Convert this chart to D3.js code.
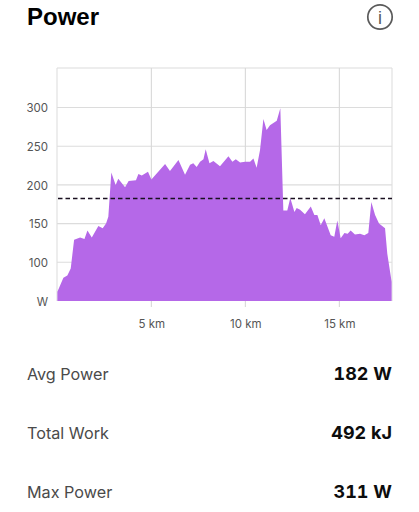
<!DOCTYPE html>
<html>
<head>
<meta charset="utf-8">
<script src="https://cdn.jsdelivr.net/npm/d3@7/dist/d3.min.js"></script>
<style>html,body{margin:0;padding:0;background:#fff;overflow:hidden}svg{display:block}</style>
</head>
<body>
<svg id="c" width="419" height="512"></svg>
<script>
const distanceKm = [0,0.11,0.32,0.53,0.71,0.89,1.21,1.44,1.60,1.83,2.18,2.41,2.59,2.71,2.77,2.87,3.10,3.24,3.60,3.79,4.18,4.31,4.49,4.82,5.00,5.73,5.99,6.44,6.79,7.06,7.23,7.41,7.59,7.77,7.89,8.09,8.30,8.65,9.10,9.31,9.49,9.72,9.98,10.25,10.43,10.60,10.78,10.96,11.13,11.31,11.67,11.86,12.02,12.23,12.39,12.61,12.73,12.91,13.17,13.48,13.67,13.83,14.01,14.20,14.54,14.73,14.89,15.07,15.27,15.44,15.60,15.83,16.10,16.33,16.54,16.70,16.90,17.11,17.43,17.55,17.78];
const powerW = [62,68,80,83,92,129,132,130,141,132,147,144,150,159,180,216,200,208,197,205,206,214,212,217,207,227,218,232,213,226,228,223,230,233,246,228,231,224,237,230,233,229,230,230,234,222,245,285,271,277,283,299,167,167,183,165,170,168,162,172,161,161,148,157,135,133,154,131,138,137,141,136,137,135,138,178,161,150,144,111,75];
const avgPower = 182;
const yTicks = [50,100,150,200,250,300];
const xTicks = [5,10,15];
const statLabels = ["Avg Power","Total Work","Max Power"];
const statValues = ["182 W","492 kJ","311 W"];

const svg = d3.select("#c");
const uiFont = "Inter, 'Noto Sans', sans-serif";
const x = d3.scaleLinear().domain([-0.02,17.8]).range([57,392]);
const y = d3.scaleLinear().domain([50,351]).range([301,68]);

svg.append("text").attr("x",27).attr("y",25).attr("font-family","'Liberation Sans',Arial,sans-serif")
  .attr("font-weight",700).attr("font-size",24).attr("fill","#000").text("Power");
const info = svg.append("g").attr("transform","translate(380,17)");
info.append("circle").attr("r",12.2).attr("fill","none").attr("stroke","#5a5a5a").attr("stroke-width",1.7);
info.append("text").attr("text-anchor","middle").attr("y",6.5).attr("font-family","'Liberation Sans',sans-serif")
  .attr("font-size",18).attr("fill","#5a5a5a").text("i");

// grid
const grid = svg.append("g");
grid.selectAll("line.h").data(yTicks.slice(1).concat([351])).join("line")
  .attr("x1",57).attr("x2",392).attr("y1",d=>y(d)).attr("y2",d=>y(d)).attr("stroke","#dcdcdc").attr("stroke-width",1.1);
grid.selectAll("line.v").data(xTicks.concat([])).join("line")
  .attr("class","v").attr("x1",d=>x(d)).attr("x2",d=>x(d)).attr("y1",68).attr("y2",307).attr("stroke","#d8d8d8").attr("stroke-width",1.1);
grid.selectAll("line.e").data([57,392]).join("line").attr("class","e")
  .attr("x1",d=>d).attr("x2",d=>d).attr("y1",68).attr("y2",301).attr("stroke","#dfdfdf").attr("stroke-width",1.1);

// area
const pts = distanceKm.map((d,i)=>[d,powerW[i]]);
svg.append("path").datum(pts)
  .attr("d",d3.area().x(d=>x(d[0])).y0(y(50)).y1(d=>y(d[1])))
  .attr("fill","#b568e8");

// average line
svg.append("line").attr("x1",58).attr("x2",392).attr("y1",y(avgPower)-0.3).attr("y2",y(avgPower)-0.3)
  .attr("stroke","#1a1020").attr("stroke-width",1.3).attr("stroke-dasharray","4.5,3");

// axes
const yAxis = d3.axisLeft(y).tickValues(yTicks).tickSize(0).tickPadding(9)
  .tickFormat(d=>d===50?"W":d);
const gy = svg.append("g").attr("transform","translate(57,0.6)").call(yAxis);
gy.select(".domain").remove();
gy.selectAll("text").attr("font-family",uiFont).attr("font-size",11.5).attr("fill","#555");
const xAxis = d3.axisBottom(x).tickValues(xTicks).tickSize(0).tickPadding(18)
  .tickFormat(d=>d+" km");
const gx = svg.append("g").attr("transform","translate(0,301.6)").call(xAxis);
gx.select(".domain").remove();
gx.selectAll("text").attr("font-family",uiFont).attr("font-size",11.5).attr("fill","#555");

// stats
const rowY = [380,439,498];
statLabels.forEach((l,i)=>{
  svg.append("text").attr("x",27).attr("y",rowY[i]).attr("font-family",uiFont)
    .attr("font-size",16.2).attr("fill","#4a4a4a").text(l);
  svg.append("text").attr("x",392).attr("y",rowY[i]).attr("text-anchor","end").attr("font-family",uiFont)
    .attr("font-weight",700).attr("font-size",18).attr("fill","#0d0d0d")
    .style("font-variant-numeric","tabular-nums").text(statValues[i]);
});
</script>
</body>
</html>
